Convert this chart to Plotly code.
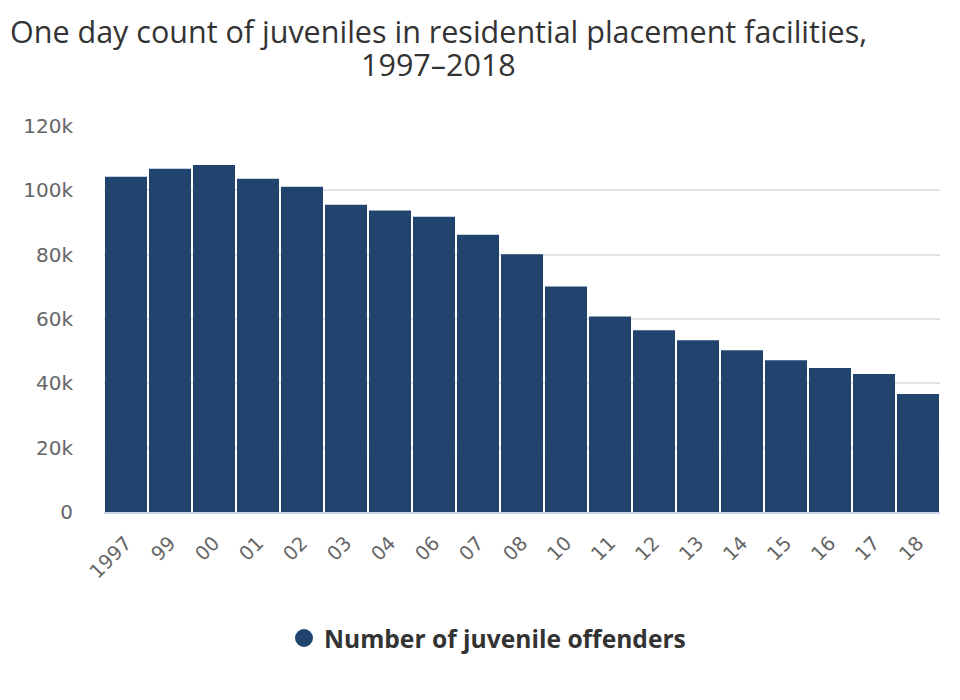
import plotly.graph_objects as go

categories = ["1997", "99", "00", "01", "02", "03", "04", "06", "07", "08",
              "10", "11", "12", "13", "14", "15", "16", "17", "18"]
counts = [104200, 106700, 107900, 103600, 101100, 95500, 93700, 91800, 86200, 80100,
          70100, 60800, 56500, 53400, 50300, 47200, 44800, 42900, 36700]
series_name = "Number of juvenile offenders"
title_lines = ["One day count of juveniles in residential placement facilities,", "1997–2018"]
y_ticks = [0, 20000, 40000, 60000, 80000, 100000, 120000]
y_tick_labels = ["0", "20k", "40k", "60k", "80k", "100k", "120k"]

BAR = "#21446f"

fig = go.Figure()
fig.add_trace(go.Bar(x=categories, y=counts, marker=dict(color=BAR, line=dict(width=0)),
                     showlegend=False, name=series_name))
fig.add_trace(go.Scatter(x=[None], y=[None], mode="markers", name=series_name,
                         marker=dict(symbol="circle", size=16, color=BAR,
                                     line=dict(color=BAR, width=2))))

W, H = 960, 700
L, R, T, B = 104, 20, 125.5, 187.5
PW, PH = W - L - R, H - T - B


def px_to_paper(xp, yp):
    return (xp - L) / PW, (H - B - yp) / PH


for txt, ymid in zip(title_lines, [30.5, 63.5]):
    ax, ay = px_to_paper(438, ymid)
    fig.add_annotation(text=txt, x=ax, y=ay, xref="paper", yref="paper",
                       xanchor="center", yanchor="middle", showarrow=False,
                       font=dict(family="Open Sans", size=30.5, color="#333333"))

fig.update_layout(
    width=W, height=H,
    margin=dict(l=L, r=R, t=T, b=B, pad=0),
    paper_bgcolor="white", plot_bgcolor="white",
    bargap=0.045,
    xaxis=dict(tickangle=-45, showgrid=False, showline=True, linecolor="#ccd6eb", linewidth=2,
               ticks="", ticklabelstandoff=10,
               tickfont=dict(family="DejaVu Sans", size=19.5, color="#666666"),
               fixedrange=True),
    yaxis=dict(range=[0, 120000], tickvals=y_ticks, ticktext=y_tick_labels,
               showgrid=True, gridcolor="#e3e3e3", gridwidth=1.5, zeroline=False,
               ticks="", ticklabelstandoff=30,
               tickfont=dict(family="DejaVu Sans", size=20, color="#666666"),
               fixedrange=True),
    legend=dict(orientation="h", x=284 / W, xref="container", xanchor="left",
                y=(H - 638) / H, yref="container", yanchor="middle",
                font=dict(family="Open Sans", size=24.6, color="#333333", weight="bold"),
                itemsizing="trace"),
    showlegend=True,
)

fig.write_html("out.html")
